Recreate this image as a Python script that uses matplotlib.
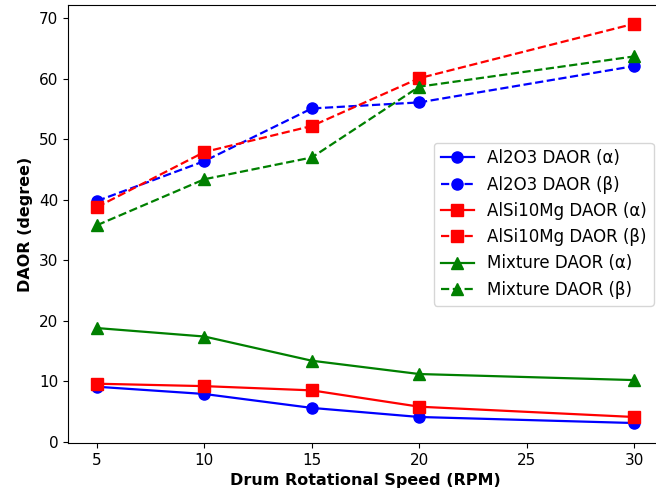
import matplotlib
matplotlib.use("Agg")
import matplotlib.pyplot as plt

speed = [5, 10, 15, 20, 30]
al2o3_alpha = [9.1, 7.9, 5.6, 4.1, 3.1]
al2o3_beta = [39.8, 46.4, 55.1, 56.1, 62.1]
alsi_alpha = [9.6, 9.2, 8.5, 5.8, 4.1]
alsi_beta = [38.8, 47.9, 52.2, 60.1, 69.1]
mix_alpha = [18.8, 17.4, 13.4, 11.2, 10.2]
mix_beta = [35.8, 43.4, 47.0, 58.7, 63.7]

fig = plt.figure(figsize=(6.56, 4.99), dpi=100)
ax = fig.add_axes([68/656, 1-443/499, (662-68)/656, (443-5)/499])

ms = 8
lw = 1.6
ax.plot(speed, al2o3_alpha, color='blue', marker='o', ls='-', lw=lw, ms=ms, label='Al2O3 DAOR (α)')
ax.plot(speed, al2o3_beta, color='blue', marker='o', ls='--', lw=lw, ms=ms, label='Al2O3 DAOR (β)')
ax.plot(speed, alsi_alpha, color='red', marker='s', ls='-', lw=lw, ms=ms, label='AlSi10Mg DAOR (α)')
ax.plot(speed, alsi_beta, color='red', marker='s', ls='--', lw=lw, ms=ms, label='AlSi10Mg DAOR (β)')
ax.plot(speed, mix_alpha, color='green', marker='^', ls='-', lw=lw, ms=ms, label='Mixture DAOR (α)')
ax.plot(speed, mix_beta, color='green', marker='^', ls='--', lw=lw, ms=ms, label='Mixture DAOR (β)')

ax.set_xlim(3.65, 31.3)
ax.set_ylim(-0.2, 72.2)
ax.set_xticks([5, 10, 15, 20, 25, 30])
ax.tick_params(labelsize=11)
ax.set_xlabel('Drum Rotational Speed (RPM)', fontsize=11.5, fontweight='bold')
ax.set_ylabel('DAOR (degree)', fontsize=11.5, fontweight='bold')
ax.legend(loc='center right', fontsize=12)

fig.savefig('out.png', dpi=100)
